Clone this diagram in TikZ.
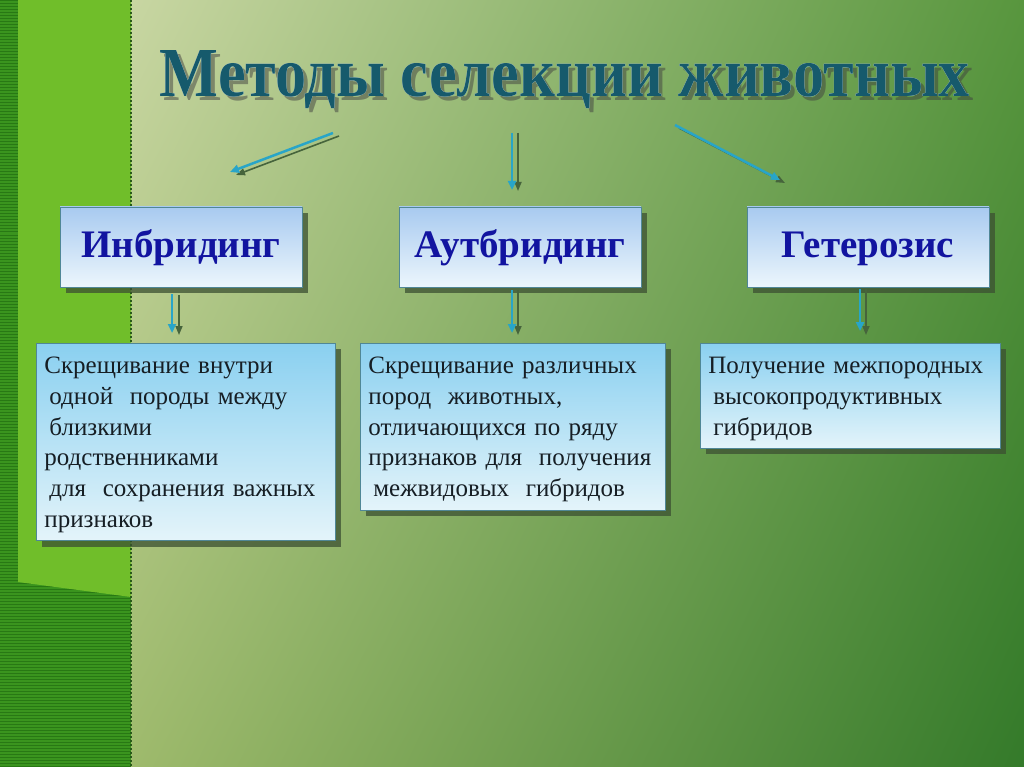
\documentclass[tikz,border=0pt]{standalone}
\usepackage{fontspec}
\setmainfont{Liberation Serif}
\usepackage{pdfrender}
\usetikzlibrary{arrows.meta,positioning,shadows,shadings,calc}

\definecolor{bgul}{RGB}{200,214,162}
\definecolor{bgur}{RGB}{88,150,62}
\definecolor{bgll}{RGB}{158,186,108}
\definecolor{bglr}{RGB}{52,122,42}
\definecolor{panelgreen}{RGB}{112,190,42}
\definecolor{stripgreen}{RGB}{58,148,30}
\definecolor{stripeline}{RGB}{40,120,20}
\definecolor{dotgreen}{RGB}{40,90,25}
\definecolor{titleteal}{RGB}{22,90,108}
\definecolor{headtop}{RGB}{168,202,240}
\definecolor{headbot}{RGB}{236,246,252}
\definecolor{texttop}{RGB}{138,208,240}
\definecolor{textbot}{RGB}{228,244,250}
\definecolor{boxline}{RGB}{80,135,150}
\definecolor{headtext}{RGB}{18,20,160}
\definecolor{bodytext}{RGB}{22,30,36}
\definecolor{boxshade}{RGB}{60,80,50}
\definecolor{arrblue}{RGB}{40,165,200}
\definecolor{arrdark}{RGB}{70,100,60}

\newcommand{\topstrut}{\rule{0pt}{22pt}}
\newcommand{\titletext}{Методы селекции животных}

\begin{document}
\begin{tikzpicture}[x=1pt,y=-1pt,
  title font/.style={anchor=base,font=\fontsize{60}{60}\selectfont\bfseries},
  head box/.style={draw=boxline,line width=0.8pt,top color=headtop,bottom color=headbot,
    minimum width=242pt,minimum height=80pt,inner sep=0pt,text height=30pt,text depth=8pt,
    drop shadow={shadow xshift=6pt,shadow yshift=-6pt,fill=boxshade,opacity=.75},
    font=\fontsize{39}{42}\selectfont\bfseries,text=headtext},
  text box/.style={draw=boxline,line width=0.8pt,top color=texttop,bottom color=textbot,
    anchor=north west,inner xsep=8pt,inner ysep=8pt,align=left,
    drop shadow={shadow xshift=6pt,shadow yshift=-6pt,fill=boxshade,opacity=.75},
    font=\fontsize{25}{30.8}\selectfont,text=bodytext},
  blue arr/.style={draw=arrblue,line width=2.5pt,-{Triangle[length=9pt,width=8pt]}},
  dark arr/.style={draw=arrdark,line width=1.6pt,-{Triangle[length=9pt,width=7pt]}}]
\useasboundingbox (0,0) rectangle (1024,767);
% background
\shade[upper left=bgul,upper right=bgur,lower left=bgll,lower right=bglr] (131,0) rectangle (1024,767);
\fill[stripgreen] (0,0) rectangle (131,767);
\foreach \y in {1,4,...,767}
  \draw[stripeline,line width=1pt] (0,\y) -- (131,\y);
\fill[panelgreen] (18,0) -- (131,0) -- (131,597) -- (18,582) -- cycle;
\draw[dotgreen,line width=2.5pt,dash pattern=on 2pt off 2pt] (131,0) -- (131,767);

% title: shadow, white rim, teal fill
\node[title font,text=black!75,opacity=.5] (title-shadow) at (569,101)
  {\resizebox{810pt}{46pt}{\textpdfrender{TextRenderingMode=FillStroke,LineWidth=3pt}{\titletext}}};
\node[title font,text=white] (title-rim) at (565,97)
  {\resizebox{810pt}{46pt}{\textpdfrender{TextRenderingMode=Stroke,LineWidth=3.2pt}{\titletext}}};
\node[title font,text=titleteal] (title) at (565,97)
  {\resizebox{810pt}{46pt}{\titletext}};

% boxes
\node[head box] (inbr) at (181,247) {Инбридинг};
\node[head box] (autbr) at (520,247) {Аутбридинг};
\node[head box] (heter) at (868,247) {Гетерозис};

\node[text box,text width=283pt] (t1) at (36,343) {\topstrut Скрещивание внутри\\
  \hspace{5pt}одной\ \ породы между\\
  \hspace{5pt}близкими\\
  родственниками\\
  \hspace{5pt}для\ \ сохранения важных\\
  признаков};
\node[text box,text width=289pt] (t2) at (360,343) {\topstrut Скрещивание различных\\
  пород\ \ животных,\\
  отличающихся по ряду\\
  признаков для\ \ получения\\
  \hspace{5pt}межвидовых\ \ гибридов};
\node[text box,text width=284pt] (t3) at (700,343) {\topstrut Получение межпородных\\
  \hspace{5pt}высокопродуктивных\\
  \hspace{5pt}гибридов};

% arrows from title
\coordinate (l1) at (333,133);
\coordinate (l2) at (230,172);
\coordinate (m1) at (512,133);
\coordinate (m2) at (512,190);
\coordinate (r1) at (675,125);
\coordinate (r2) at (780,180);
\draw[dark arr] ([shift={(6,3)}]l1) -- ([shift={(6,3)}]l2);
\draw[blue arr] (l1) -- (l2);
\draw[dark arr] ([shift={(6,0)}]m1) -- ([shift={(6,1)}]m2);
\draw[blue arr] (m1) -- (m2);
\draw[dark arr] ([shift={(4,3)}]r1) -- ([shift={(5,3)}]r2);
\draw[blue arr] (r1) -- (r2);

% arrows to text boxes
\draw[dark arr] ([xshift=-2pt,yshift=-8pt]inbr.south) -- ([xshift=-2pt,yshift=8pt]inbr.south |- t1.north);
\draw[blue arr] ([xshift=-9pt,yshift=-7pt]inbr.south) -- ([xshift=-9pt,yshift=10pt]inbr.south |- t1.north);
\draw[dark arr] ([xshift=-2pt,yshift=-3pt]autbr.south) -- ([xshift=-2pt,yshift=8pt]autbr.south |- t2.north);
\draw[blue arr] ([xshift=-8pt,yshift=-3pt]autbr.south) -- ([xshift=-8pt,yshift=10pt]autbr.south |- t2.north);
\draw[dark arr] ([xshift=-2pt,yshift=-2pt]heter.south) -- ([xshift=-2pt,yshift=8pt]heter.south |- t3.north);
\draw[blue arr] ([xshift=-8pt,yshift=-2pt]heter.south) -- ([xshift=-8pt,yshift=12pt]heter.south |- t3.north);
\end{tikzpicture}
\end{document}
